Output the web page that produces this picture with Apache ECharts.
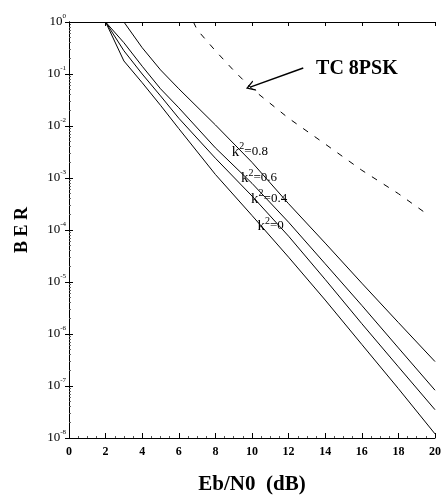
<!DOCTYPE html>
<html>
<head>
<meta charset="utf-8">
<script src="https://cdn.jsdelivr.net/npm/echarts@6/dist/echarts.min.js"></script>
<style>
  html,body{margin:0;padding:0;background:#fff}
  #chart{width:445px;height:500px}
</style>
</head>
<body>
<div id="chart"></div>
<script>
// Eb/N0 (dB) points for each curve
var ebnoK08 = [3, 4, 5, 6, 8, 10, 12, 14, 16, 18, 20]
var berK08 = [1, 3.2e-1, 1.2e-1, 5.2e-2, 1.05e-2, 2.0e-3, 3.2e-4, 5.6e-5, 9.5e-6, 1.66e-6, 2.95e-7]

var ebnoK06 = [2, 3, 4, 5, 6, 8, 10, 12, 14, 16, 18, 20]
var berK06 = [1, 4.0e-1, 1.41e-1, 5.2e-2, 2.24e-2, 3.8e-3, 7.9e-4, 1.41e-4, 2.24e-5, 3.55e-6, 5.4e-7, 8.3e-8]

var ebnoK04 = [2, 3, 4, 5, 6, 8, 10, 12, 14, 16, 18, 20]
var berK04 = [1, 2.8e-1, 1.0e-1, 3.8e-2, 1.41e-2, 2.4e-3, 4.5e-4, 7.6e-5, 1.12e-5, 1.58e-6, 2.34e-7, 3.5e-8]

var ebnoK0 = [2, 3, 4, 5, 6, 8, 10, 12, 14, 16, 18, 20]
var berK0 = [1, 1.78e-1, 6.8e-2, 2.5e-2, 8.9e-3, 1.17e-3, 1.9e-4, 3.0e-5, 4.5e-6, 6.3e-7, 8.9e-8, 1.2e-8]

var ebnoTC = [6.8, 7, 8, 9, 10, 12, 14, 16, 18, 19.5]
var berTC = [1, 7.1e-1, 2.8e-1, 1.17e-1, 5.2e-2, 1.41e-2, 4.5e-3, 1.41e-3, 5.0e-4, 2.1e-4]

// label anchors [Eb/N0, BER]
var kLabels = [
  {name:'0.8', at:[8.9, 3.2e-3]},
  {name:'0.6', at:[9.4, 1.0e-3]},
  {name:'0.4', at:[9.95, 4.0e-4]},
  {name:'0',   at:[10.3, 1.2e-4]}
]
var tcLabelAt = [13.5, 1.25e-1]
var arrowFrom = [12.8, 1.3e-1]
var arrowTo = [9.9, 5.6e-2]

var SERIF = "'Liberation Serif','Times New Roman',serif"

function pairs(xs, ys){
  var out = []
  xs.forEach((x, i)=>{ out.push([x, ys[i]]) })
  return out
}

function kMark(item){
  return {
    symbol:'circle',
    symbolSize:0,
    data:[{
      coord:item.at,
      label:{
        show:true,
        position:'right',
        distance:0,
        formatter:'{k|k}{s|2}{n|=' + item.name + '}',
        rich:{
          k:{fontFamily:SERIF, fontSize:15, color:'#000'},
          s:{fontFamily:SERIF, fontSize:10, color:'#000', padding:[0,0,10,0]},
          n:{fontFamily:SERIF, fontSize:13, color:'#000'}
        }
      }
    }]
  }
}

function solidLine(name, xs, ys, k){
  return {
    name:name,
    type:'line',
    data:pairs(xs, ys),
    showSymbol:false,
    symbol:'none',
    lineStyle:{color:'#000', width:1},
    markPoint:kMark(k),
    silent:true
  }
}

function axisCommon(){
  return {
    axisLine:{show:true, lineStyle:{color:'#000', width:1}},
    axisTick:{show:true, inside:true, length:4, lineStyle:{color:'#000'}},
    splitLine:{show:false}
  }
}
function xAx(extra){
  return Object.assign({type:'value', min:0, max:20, interval:2}, axisCommon(), extra)
}
function yAx(extra){
  return Object.assign({type:'log', logBase:10, min:1e-8, max:1, interval:1}, axisCommon(), extra)
}

var chart = echarts.init(document.getElementById('chart'), null, {renderer:'canvas'})

var option = {
  animation:false,
  backgroundColor:'#fff',
  grid:{left:69, right:10, top:22, bottom:62},
  xAxis:[
    xAx({
      position:'bottom',
      axisLabel:{color:'#000', fontFamily:SERIF, fontWeight:'bold', fontSize:12, margin:8},
      axisTick:{show:true, inside:true, length:5, lineStyle:{color:'#000'}},
      minorTick:{show:true, splitNumber:4, length:2, lineStyle:{color:'#555'}},
      name:'Eb/N0  (dB)',
      nameLocation:'middle',
      nameGap:36,
      nameTextStyle:{fontFamily:SERIF, fontWeight:'bold', fontSize:21, color:'#000'}
    }),
    xAx({position:'top', axisLabel:{show:false}})
  ],
  yAxis:[
    yAx({
      position:'left',
      axisLabel:{
        margin:3,
        formatter:(v)=>{
          var e = Math.round(Math.log10(v))
          return '{b|10}{e|' + e + '}'
        },
        rich:{
          b:{fontFamily:SERIF, fontSize:13, color:'#000'},
          e:{fontFamily:SERIF, fontSize:7, color:'#000', padding:[0,0,11,0]}
        }
      },
      minorTick:{show:true, splitNumber:9, length:2, lineStyle:{color:'#666'}},
      name:'B E R',
      nameLocation:'middle',
      nameRotate:90,
      nameGap:38,
      nameTextStyle:{fontFamily:SERIF, fontWeight:'bold', fontSize:18, color:'#000'}
    }),
    yAx({position:'right', axisLabel:{show:false}})
  ],
  series:[
    solidLine('k0.8', ebnoK08, berK08, kLabels[0]),
    solidLine('k0.6', ebnoK06, berK06, kLabels[1]),
    solidLine('k0.4', ebnoK04, berK04, kLabels[2]),
    solidLine('k0', ebnoK0, berK0, kLabels[3]),
    {
      name:'TC 8PSK',
      type:'line',
      data:pairs(ebnoTC, berTC),
      showSymbol:false,
      symbol:'none',
      lineStyle:{color:'#000', width:1, type:[6,8]},
      silent:true,
      markPoint:{
        symbol:'circle',
        symbolSize:0,
        data:[{
          coord:tcLabelAt,
          label:{
            show:true, position:'right', distance:0,
            formatter:'TC 8PSK',
            fontFamily:SERIF, fontWeight:'bold', fontSize:20, color:'#000'
          }
        }]
      },
      markLine:{
        silent:true,
        // open V arrow head
        symbol:['none', 'path://M0,10 L5,0 L10,10 L8.6,10 L5,2.8 L1.4,10 Z'],
        symbolSize:[11, 9],
        label:{show:false},
        lineStyle:{color:'#000', width:1.5, type:'solid'},
        data:[[{coord:arrowFrom}, {coord:arrowTo}]]
      }
    }
  ]
}

chart.setOption(option)
</script>
</body>
</html>
